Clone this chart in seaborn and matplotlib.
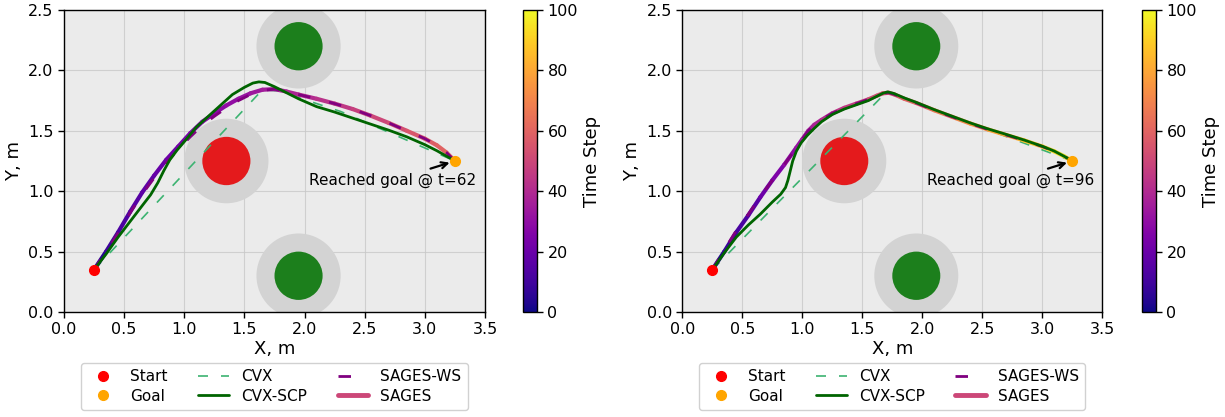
import numpy as np
import pandas as pd
import matplotlib
matplotlib.use("Agg")
import matplotlib.pyplot as plt
import seaborn as sns
from matplotlib.collections import LineCollection
from matplotlib.patches import Circle
from matplotlib.lines import Line2D
from matplotlib.colors import Normalize
from matplotlib.cm import ScalarMappable

# ---------------- scene ----------------
start = (0.25, 0.35)
goal = (3.25, 1.25)
obstacle_centers = [(1.35, 1.25), (1.95, 2.2), (1.95, 0.3)]
obstacle_colors = ["#e41a1c", "#1c7f1c", "#1c7f1c"]
obstacle_radius = 0.2
safety_radius = 0.35

# ---------------- scenario A (goal reached at t=62) ----------------
a_cvx_x = [0.25, 1.65, 1.78, 2.30, 3.25]
a_cvx_y = [0.35, 1.84, 1.83, 1.66, 1.25]

a_scp_x = [0.25, 0.35, 0.45, 0.55, 0.65, 0.72, 0.78, 0.83, 0.88, 0.94, 1.00, 1.10,
           1.20, 1.30, 1.40, 1.50, 1.57, 1.62, 1.67, 1.75, 1.85, 1.95, 2.10, 2.25,
           2.40, 2.55, 2.70, 2.85, 3.00, 3.10, 3.18, 3.25]
a_scp_y = [0.35, 0.48, 0.62, 0.75, 0.88, 0.97, 1.07, 1.17, 1.26, 1.34, 1.41, 1.53,
           1.62, 1.71, 1.80, 1.86, 1.895, 1.905, 1.90, 1.865, 1.815, 1.765, 1.70, 1.655,
           1.605, 1.555, 1.505, 1.45, 1.385, 1.335, 1.29, 1.25]

a_ws_x = [0.25, 0.35, 0.45, 0.55, 0.65, 0.75, 0.85, 0.95, 1.05, 1.15, 1.25, 1.35,
          1.45, 1.55, 1.65, 1.75, 1.85, 1.95, 2.10, 2.25, 2.40, 2.55, 2.70, 2.85,
          3.00, 3.10, 3.18, 3.25]
a_ws_y = [0.35, 0.50, 0.655, 0.82, 0.975, 1.11, 1.235, 1.345, 1.45, 1.545, 1.62, 1.69,
          1.75, 1.80, 1.835, 1.845, 1.825, 1.80, 1.765, 1.725, 1.68, 1.625, 1.565, 1.50,
          1.435, 1.38, 1.32, 1.25]

a_sages_x = [0.25, 0.35, 0.45, 0.55, 0.65, 0.75, 0.85, 0.95, 1.05, 1.15, 1.25, 1.35,
             1.45, 1.55, 1.65, 1.75, 1.85, 1.95, 2.10, 2.25, 2.40, 2.55, 2.70, 2.85,
             3.00, 3.10, 3.18, 3.25]
a_sages_y = [0.35, 0.50, 0.66, 0.83, 0.99, 1.13, 1.26, 1.37, 1.48, 1.575, 1.645, 1.71,
             1.765, 1.81, 1.84, 1.845, 1.825, 1.80, 1.765, 1.725, 1.68, 1.625, 1.565, 1.50,
             1.435, 1.38, 1.32, 1.25]
a_sages_t = [0, 8, 11, 14, 16, 18, 20, 22, 24, 26, 28, 29.5, 31, 33, 34.5, 36, 37.5,
             39, 41.5, 44, 46.5, 49, 51.5, 54, 57, 59, 60.5, 62]
a_goal_t = 62

# ---------------- scenario B (goal reached at t=96) ----------------
b_cvx_x = [0.25, 1.70, 3.25]
b_cvx_y = [0.35, 1.82, 1.25]

b_scp_x = [0.25, 0.35, 0.45, 0.55, 0.65, 0.75, 0.82, 0.86, 0.88, 0.90, 0.92, 0.95,
           0.99, 1.04, 1.10, 1.16, 1.25, 1.35, 1.45, 1.55, 1.62, 1.67, 1.71, 1.76,
           1.85, 1.95, 2.10, 2.25, 2.40, 2.55, 2.70, 2.85, 3.00, 3.10, 3.18, 3.25]
b_scp_y = [0.35, 0.49, 0.62, 0.72, 0.81, 0.91, 0.975, 1.03, 1.09, 1.17, 1.25, 1.33,
           1.40, 1.46, 1.52, 1.575, 1.635, 1.68, 1.715, 1.75, 1.785, 1.81, 1.822, 1.81,
           1.772, 1.735, 1.675, 1.62, 1.565, 1.515, 1.47, 1.423, 1.372, 1.332, 1.29, 1.25]

b_ws_x = [0.25, 0.35, 0.45, 0.55, 0.65, 0.75, 0.85, 0.95, 1.00, 1.05, 1.10, 1.16,
          1.25, 1.35, 1.45, 1.55, 1.62, 1.67, 1.72, 1.77, 1.85, 1.95, 2.10, 2.25,
          2.40, 2.55, 2.70, 2.85, 3.00, 3.10, 3.18, 3.25]
b_ws_y = [0.35, 0.515, 0.675, 0.81, 0.955, 1.09, 1.22, 1.36, 1.43, 1.50, 1.55, 1.59,
          1.645, 1.69, 1.725, 1.76, 1.79, 1.81, 1.815, 1.80, 1.765, 1.73, 1.67, 1.615,
          1.56, 1.51, 1.465, 1.42, 1.37, 1.33, 1.29, 1.25]

b_sages_x = [0.25, 0.35, 0.45, 0.55, 0.65, 0.75, 0.85, 0.95, 1.00, 1.05, 1.10, 1.16,
             1.25, 1.35, 1.45, 1.55, 1.62, 1.67, 1.72, 1.77, 1.85, 1.95, 2.10, 2.25,
             2.40, 2.55, 2.70, 2.85, 3.00, 3.10, 3.18, 3.25]
b_sages_y = [0.35, 0.50, 0.66, 0.80, 0.95, 1.09, 1.22, 1.36, 1.43, 1.50, 1.55, 1.59,
             1.645, 1.69, 1.725, 1.76, 1.79, 1.81, 1.815, 1.80, 1.765, 1.73, 1.67, 1.615,
             1.56, 1.51, 1.465, 1.42, 1.37, 1.33, 1.29, 1.25]
b_sages_t = [0, 7, 10, 14, 18, 23, 27, 31, 33, 35, 37, 39, 42, 45, 47, 50, 52, 53,
             55, 56, 58, 61, 65, 69, 73, 77, 81, 85, 89, 92, 94, 96]
b_goal_t = 96

x_ticks = [0.0, 0.5, 1.0, 1.5, 2.0, 2.5, 3.0, 3.5]
y_ticks = [0.0, 0.5, 1.0, 1.5, 2.0, 2.5]
cbar_ticks = [0, 20, 40, 60, 80, 100]

# ---------------- style ----------------
sns.set_theme(style="ticks")
plt.rcParams.update({
    "font.family": ["DejaVu Sans"],
    "text.color": "black",
    "axes.labelcolor": "black",
    "axes.facecolor": "#ebebeb",
    "axes.edgecolor": "black",
    "axes.linewidth": 1.0,
    "xtick.color": "black",
    "ytick.color": "black",
    "xtick.major.size": 4,
    "ytick.major.size": 4,
    "xtick.major.width": 1.0,
    "ytick.major.width": 1.0,
    "xtick.labelsize": 11.5,
    "ytick.labelsize": 11.5,
    "axes.labelsize": 13,
    "legend.facecolor": "white",
    "legend.edgecolor": "#cccccc",
    "legend.framealpha": 0.9,
})

CVX_COLOR = "mediumseagreen"
SCP_COLOR = "darkgreen"
WS_COLOR = "purple"
SAGES_COLOR = plt.get_cmap("plasma")(0.5)
cmap = plt.get_cmap("plasma")
norm = Normalize(0, 100)

W, H = 1225, 417
fig = plt.figure(figsize=(W / 100, H / 100), dpi=100)

panels = [
    dict(ax=(64, 312, 421, 302), cax=(523, 312, 14, 302),
         cvx=(a_cvx_x, a_cvx_y), scp=(a_scp_x, a_scp_y), ws=(a_ws_x, a_ws_y),
         sages=(a_sages_x, a_sages_y, a_sages_t), t_goal=a_goal_t),
    dict(ax=(682.3, 312, 420, 302), cax=(1142, 312, 14, 302),
         cvx=(b_cvx_x, b_cvx_y), scp=(b_scp_x, b_scp_y), ws=(b_ws_x, b_ws_y),
         sages=(b_sages_x, b_sages_y, b_sages_t), t_goal=b_goal_t),
]


def px_rect(left, bottom_px, width, height):
    return [left / W, (H - bottom_px) / H, width / W, height / H]


for p in panels:
    ax = fig.add_axes(px_rect(*p["ax"]))
    cax = fig.add_axes(px_rect(*p["cax"]))

    ax.set_xlim(0, 3.5)
    ax.set_ylim(0, 2.5)
    ax.set_xticks(x_ticks)
    ax.set_yticks(y_ticks)
    ax.grid(True, color="#c8c8c8", linewidth=0.8, alpha=0.8)
    ax.set_axisbelow(True)
    for s in ax.spines.values():
        s.set_visible(True)

    # obstacles with safety margins
    for (cx, cy), col in zip(obstacle_centers, obstacle_colors):
        ax.add_patch(Circle((cx, cy), safety_radius, color="#d3d3d3", zorder=1, lw=0))
        ax.add_patch(Circle((cx, cy), obstacle_radius, color=col, zorder=2, lw=0))

    # baseline CVX
    cx_, cy_ = p["cvx"]
    sns.lineplot(x=cx_, y=cy_, ax=ax, sort=False, estimator=None, color=CVX_COLOR,
                 lw=1.2, zorder=3)
    ax.lines[-1].set_dashes((6, 7.8))

    # SAGES, colored by time step
    sx, sy, st = p["sages"]
    pts = np.column_stack([sx, sy]).reshape(-1, 1, 2)
    segs = np.concatenate([pts[:-1], pts[1:]], axis=1)
    tmid = 0.5 * (np.array(st[:-1]) + np.array(st[1:]))
    lc = LineCollection(segs, cmap=cmap, norm=norm, linewidths=3.0,
                        capstyle="round", joinstyle="round", zorder=4)
    lc.set_array(tmid)
    ax.add_collection(lc)

    # SAGES warm start
    wx, wy = p["ws"]
    sns.lineplot(x=wx, y=wy, ax=ax, sort=False, estimator=None, color=WS_COLOR,
                 lw=2.0, zorder=5)
    ax.lines[-1].set_dashes((4.5, 7))

    # CVX-SCP
    qx, qy = p["scp"]
    sns.lineplot(x=qx, y=qy, ax=ax, sort=False, estimator=None, color=SCP_COLOR,
                 lw=2.0, zorder=6)

    # start / goal
    ax.plot(*start, "o", color="red", ms=7, zorder=7)
    ax.plot(*goal, "o", color="orange", ms=7, zorder=7)

    ax.annotate(f"Reached goal @ t={p['t_goal']}", xy=goal, xytext=(2.735, 1.09),
                ha="center", va="center", fontsize=11, color="black",
                arrowprops=dict(arrowstyle="->", color="black", lw=1.6,
                                shrinkB=4),
                zorder=8)

    ax.set_xlabel("X, m", labelpad=2)
    ax.set_ylabel("Y, m", labelpad=4)

    sm = ScalarMappable(norm=norm, cmap=cmap)
    cb = fig.colorbar(sm, cax=cax)
    cb.set_ticks(cbar_ticks)
    cb.set_label("Time Step", fontsize=13)
    cb.ax.tick_params(labelsize=11.5, length=4)

    handles = [
        Line2D([], [], marker="o", color="red", ls="none", ms=7),
        Line2D([], [], marker="o", color="orange", ls="none", ms=7),
        Line2D([], [], color=CVX_COLOR, lw=1.2, dashes=(6, 7.8)),
        Line2D([], [], color=SCP_COLOR, lw=2.0),
        Line2D([], [], color=WS_COLOR, lw=2.0, dashes=(4.5, 7)),
        Line2D([], [], color=SAGES_COLOR, lw=3.5),
    ]
    labels = ["Start", "Goal", "CVX", "CVX-SCP", "SAGES-WS", "SAGES"]
    ax.legend(handles, labels, loc="upper center", bbox_to_anchor=(0.5, -0.144),
              ncol=3, fontsize=11, frameon=True, columnspacing=2.0,
              handletextpad=0.8, borderpad=0.4, labelspacing=0.3)

fig.savefig("out.png", dpi=100)
